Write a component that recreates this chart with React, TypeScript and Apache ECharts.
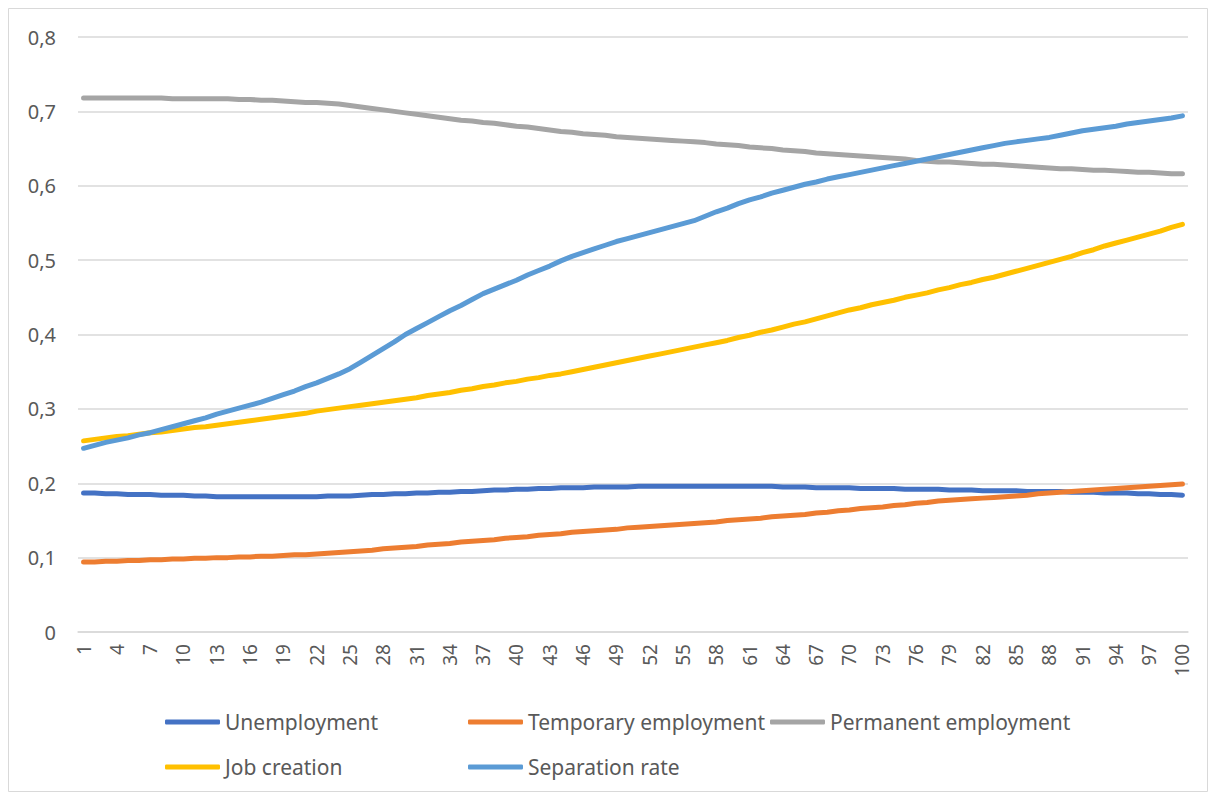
import React, { useEffect, useRef } from "react";
import * as echarts from "echarts";

const categories: string[] = Array.from({ length: 100 }, (_, i) => String(i + 1));

const unemployment = [
  0.187, 0.187, 0.186, 0.186, 0.185, 0.185, 0.185, 0.184, 0.184, 0.184,
  0.183, 0.183, 0.182, 0.182, 0.182, 0.182, 0.182, 0.182, 0.182, 0.182,
  0.182, 0.182, 0.183, 0.183, 0.183, 0.184, 0.185, 0.185, 0.186, 0.186,
  0.187, 0.187, 0.188, 0.188, 0.189, 0.189, 0.19, 0.191, 0.191, 0.192,
  0.192, 0.193, 0.193, 0.194, 0.194, 0.194, 0.195, 0.195, 0.195, 0.195,
  0.196, 0.196, 0.196, 0.196, 0.196, 0.196, 0.196, 0.196, 0.196, 0.196,
  0.196, 0.196, 0.196, 0.195, 0.195, 0.195, 0.194, 0.194, 0.194, 0.194,
  0.193, 0.193, 0.193, 0.193, 0.192, 0.192, 0.192, 0.192, 0.191, 0.191,
  0.191, 0.19, 0.19, 0.19, 0.19, 0.189, 0.189, 0.189, 0.189, 0.188,
  0.188, 0.188, 0.187, 0.187, 0.187, 0.186, 0.186, 0.185, 0.185, 0.184,
];

const temporaryEmployment = [
  0.094, 0.094, 0.095, 0.095, 0.096, 0.096, 0.097, 0.097, 0.098, 0.098,
  0.099, 0.099, 0.1, 0.1, 0.101, 0.101, 0.102, 0.102, 0.103, 0.104,
  0.104, 0.105, 0.106, 0.107, 0.108, 0.109, 0.11, 0.112, 0.113, 0.114,
  0.115, 0.117, 0.118, 0.119, 0.121, 0.122, 0.123, 0.124, 0.126, 0.127,
  0.128, 0.13, 0.131, 0.132, 0.134, 0.135, 0.136, 0.137, 0.138, 0.14,
  0.141, 0.142, 0.143, 0.144, 0.145, 0.146, 0.147, 0.148, 0.15, 0.151,
  0.152, 0.153, 0.155, 0.156, 0.157, 0.158, 0.16, 0.161, 0.163, 0.164,
  0.166, 0.167, 0.168, 0.17, 0.171, 0.173, 0.174, 0.176, 0.177, 0.178,
  0.179, 0.18, 0.181, 0.182, 0.183, 0.184, 0.186, 0.187, 0.188, 0.189,
  0.19, 0.191, 0.192, 0.193, 0.194, 0.195, 0.196, 0.197, 0.198, 0.199,
];

const permanentEmployment = [
  0.718, 0.718, 0.718, 0.718, 0.718, 0.718, 0.718, 0.718, 0.717, 0.717,
  0.717, 0.717, 0.717, 0.717, 0.716, 0.716, 0.715, 0.715, 0.714, 0.713,
  0.712, 0.712, 0.711, 0.71, 0.708, 0.706, 0.704, 0.702, 0.7, 0.698,
  0.696, 0.694, 0.692, 0.69, 0.688, 0.687, 0.685, 0.684, 0.682, 0.68,
  0.679, 0.677, 0.675, 0.673, 0.672, 0.67, 0.669, 0.668, 0.666, 0.665,
  0.664, 0.663, 0.662, 0.661, 0.66, 0.659, 0.658, 0.656, 0.655, 0.654,
  0.652, 0.651, 0.65, 0.648, 0.647, 0.646, 0.644, 0.643, 0.642, 0.641,
  0.64, 0.639, 0.638, 0.637, 0.636, 0.634, 0.633, 0.632, 0.632, 0.631,
  0.63, 0.629, 0.629, 0.628, 0.627, 0.626, 0.625, 0.624, 0.623, 0.623,
  0.622, 0.621, 0.621, 0.62, 0.619, 0.618, 0.618, 0.617, 0.616, 0.616,
];

const jobCreation = [
  0.257, 0.259, 0.261, 0.263, 0.264, 0.266, 0.268, 0.269, 0.271, 0.273,
  0.275, 0.276, 0.278, 0.28, 0.282, 0.284, 0.286, 0.288, 0.29, 0.292,
  0.294, 0.297, 0.299, 0.301, 0.303, 0.305, 0.307, 0.309, 0.311, 0.313,
  0.315, 0.318, 0.32, 0.322, 0.325, 0.327, 0.33, 0.332, 0.335, 0.337,
  0.34, 0.342, 0.345, 0.347, 0.35, 0.353, 0.356, 0.359, 0.362, 0.365,
  0.368, 0.371, 0.374, 0.377, 0.38, 0.383, 0.386, 0.389, 0.392, 0.396,
  0.399, 0.403, 0.406, 0.41, 0.414, 0.417, 0.421, 0.425, 0.429, 0.433,
  0.436, 0.44, 0.443, 0.446, 0.45, 0.453, 0.456, 0.46, 0.463, 0.467,
  0.47, 0.474, 0.477, 0.481, 0.485, 0.489, 0.493, 0.497, 0.501, 0.505,
  0.51, 0.514, 0.519, 0.523, 0.527, 0.531, 0.535, 0.539, 0.544, 0.548,
];

const separationRate = [
  0.247, 0.251, 0.255, 0.258, 0.261, 0.265, 0.268, 0.272, 0.276, 0.28,
  0.284, 0.288, 0.293, 0.297, 0.301, 0.305, 0.309, 0.314, 0.319, 0.324,
  0.33, 0.335, 0.341, 0.347, 0.354, 0.363, 0.372, 0.381, 0.39, 0.4,
  0.408, 0.416, 0.424, 0.432, 0.439, 0.447, 0.455, 0.461, 0.467, 0.473,
  0.48, 0.486, 0.492, 0.499, 0.505, 0.51, 0.515, 0.52, 0.525, 0.529,
  0.533, 0.537, 0.541, 0.545, 0.549, 0.553, 0.559, 0.565, 0.57, 0.576,
  0.581, 0.585, 0.59, 0.594, 0.598, 0.602, 0.605, 0.609, 0.612, 0.615,
  0.618, 0.621, 0.624, 0.627, 0.63, 0.633, 0.636, 0.639, 0.642, 0.645,
  0.648, 0.651, 0.654, 0.657, 0.659, 0.661, 0.663, 0.665, 0.668, 0.671,
  0.674, 0.676, 0.678, 0.68, 0.683, 0.685, 0.687, 0.689, 0.691, 0.694,
];

const seriesNames = [
  "Unemployment",
  "Temporary employment",
  "Permanent employment",
  "Job creation",
  "Separation rate",
];
const seriesColors = ["#4472C4", "#ED7D31", "#A5A5A5", "#FFC000", "#5B9BD5"];
const seriesData = [unemployment, temporaryEmployment, permanentEmployment, jobCreation, separationRate];

const FONT = "'Noto Sans', 'Open Sans', sans-serif";

export default function App() {
  const ref = useRef<HTMLDivElement>(null);
  useEffect(() => {
    if (!ref.current) return;
    const chart = echarts.init(ref.current, null, { renderer: "svg" });
    const legendBase = {
      orient: "vertical" as const,
      icon: "roundRect",
      itemWidth: 55,
      itemHeight: 5,
      itemGap: 21,
      top: 705,
      textStyle: { fontFamily: FONT, fontSize: 21, color: "#595959", lineHeight: 24 },
    };
    chart.setOption({
      animation: false,
      backgroundColor: "#ffffff",
      graphic: [
        {
          type: "rect",
          shape: { x: 8.5, y: 8.5, width: 1199, height: 783 },
          style: { fill: "none", stroke: "#D9D9D9", lineWidth: 1 },
          silent: true,
        },
      ],
      grid: { left: 78, right: 28, top: 37, bottom: 168 },
      legend: [
        { ...legendBase, left: 160, data: ["Unemployment", "Job creation"] },
        { ...legendBase, left: 463, data: ["Temporary employment", "Separation rate"] },
        { ...legendBase, left: 765, data: ["Permanent employment"] },
      ],
      xAxis: {
        type: "category",
        data: categories,
        boundaryGap: true,
        axisLine: { show: true, lineStyle: { color: "#D9D9D9", width: 1.5 } },
        axisTick: { show: false },
        axisLabel: {
          interval: 2,
          rotate: 90,
          margin: 12,
          fontFamily: FONT,
          fontSize: 19,
          color: "#595959",
        },
      },
      yAxis: {
        type: "value",
        min: 0,
        max: 0.8,
        interval: 0.1,
        axisLine: { show: false },
        axisTick: { show: false },
        splitLine: { lineStyle: { color: "#D9D9D9", width: 1.5 } },
        axisLabel: {
          margin: 22,
          fontFamily: FONT,
          fontSize: 20,
          color: "#595959",
          formatter: (v: number) => (v === 0 ? "0" : v.toFixed(1).replace(".", ",")),
        },
      },
      series: seriesNames.map((name, i) => ({
        name,
        type: "line",
        data: seriesData[i],
        showSymbol: false,
        symbol: "none",
        smooth: false,
        color: seriesColors[i],
        lineStyle: { width: 5, color: seriesColors[i], cap: "round", join: "round" },
        itemStyle: { color: seriesColors[i] },
      })),
    });
    return () => chart.dispose();
  }, []);
  return (
    <div
      ref={ref}
      style={{ position: "absolute", left: 0, top: 0, width: 1216, height: 800 }}
    />
  );
}
